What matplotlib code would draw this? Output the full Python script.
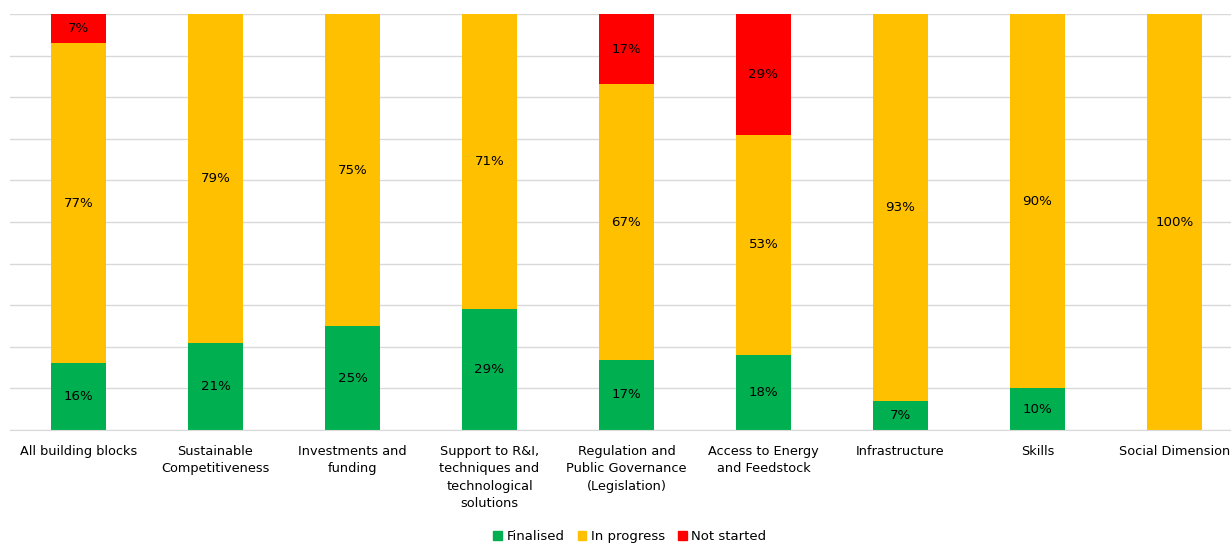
import matplotlib
matplotlib.use('Agg')
import matplotlib.pyplot as plt
from matplotlib.patches import Patch
import numpy as np

categories = ['All building blocks', 'Sustainable\nCompetitiveness', 'Investments and\nfunding',
              'Support to R&I,\ntechniques and\ntechnological\nsolutions',
              'Regulation and\nPublic Governance\n(Legislation)', 'Access to Energy\nand Feedstock',
              'Infrastructure', 'Skills', 'Social Dimension']
finalised = [16, 21, 25, 29, 17, 18, 7, 10, 0]
in_progress = [77, 79, 75, 71, 67, 53, 93, 90, 100]
not_started = [7, 0, 0, 0, 17, 29, 0, 0, 0]

series = [('Finalised', finalised, '#00B050'),
          ('In progress', in_progress, '#FFC000'),
          ('Not started', not_started, '#FF0000')]

plt.rcParams['font.family'] = ['DejaVu Sans']
plt.rcParams['font.size'] = 9.3

fig = plt.figure(figsize=(12.31, 5.43), dpi=100)
W, H = 1231, 543
ax = fig.add_axes([10 / W, (H - 430) / H, 1233 / W, 416 / H])

x = np.arange(len(categories))
total = np.array(finalised) + np.array(in_progress) + np.array(not_started)
bottom = np.zeros(len(categories))
for name, vals, col in series:
    vals = np.array(vals, dtype=float)
    frac = vals / total * 100
    ax.bar(x, frac, 0.4, bottom=bottom, color=col, zorder=2)
    for xi, b, f, v in zip(x, bottom, frac, vals):
        if v > 0:
            ax.text(xi, b + f / 2, '%d%%' % v, ha='center', va='center', color='#000000',
                    fontsize=9.6, zorder=3)
    bottom += frac

ax.set_xlim(-0.5, len(categories) - 0.5)
ax.set_ylim(0, 100)
ax.set_yticks(np.arange(0, 101, 10))
ax.yaxis.grid(True, color='#d9d9d9', lw=1)
ax.set_axisbelow(True)
ax.tick_params(axis='y', left=False, labelleft=False)
ax.tick_params(axis='x', bottom=False, pad=7)
ax.set_xticks(x)
ax.set_xticklabels(categories, linespacing=1.45, va='top')
for s in ['top', 'right', 'left']:
    ax.spines[s].set_visible(False)
ax.spines['bottom'].set_color('#d9d9d9')

handles = [Patch(color=c, label=n) for n, v, c in series]
fig.legend(handles=handles, loc='lower center', bbox_to_anchor=(630 / W, -0.022), ncol=3,
           frameon=False, handlelength=0.65, handleheight=0.65, handletextpad=0.35,
           columnspacing=1.0, fontsize=9.5)

fig.savefig('out.png', dpi=100)
